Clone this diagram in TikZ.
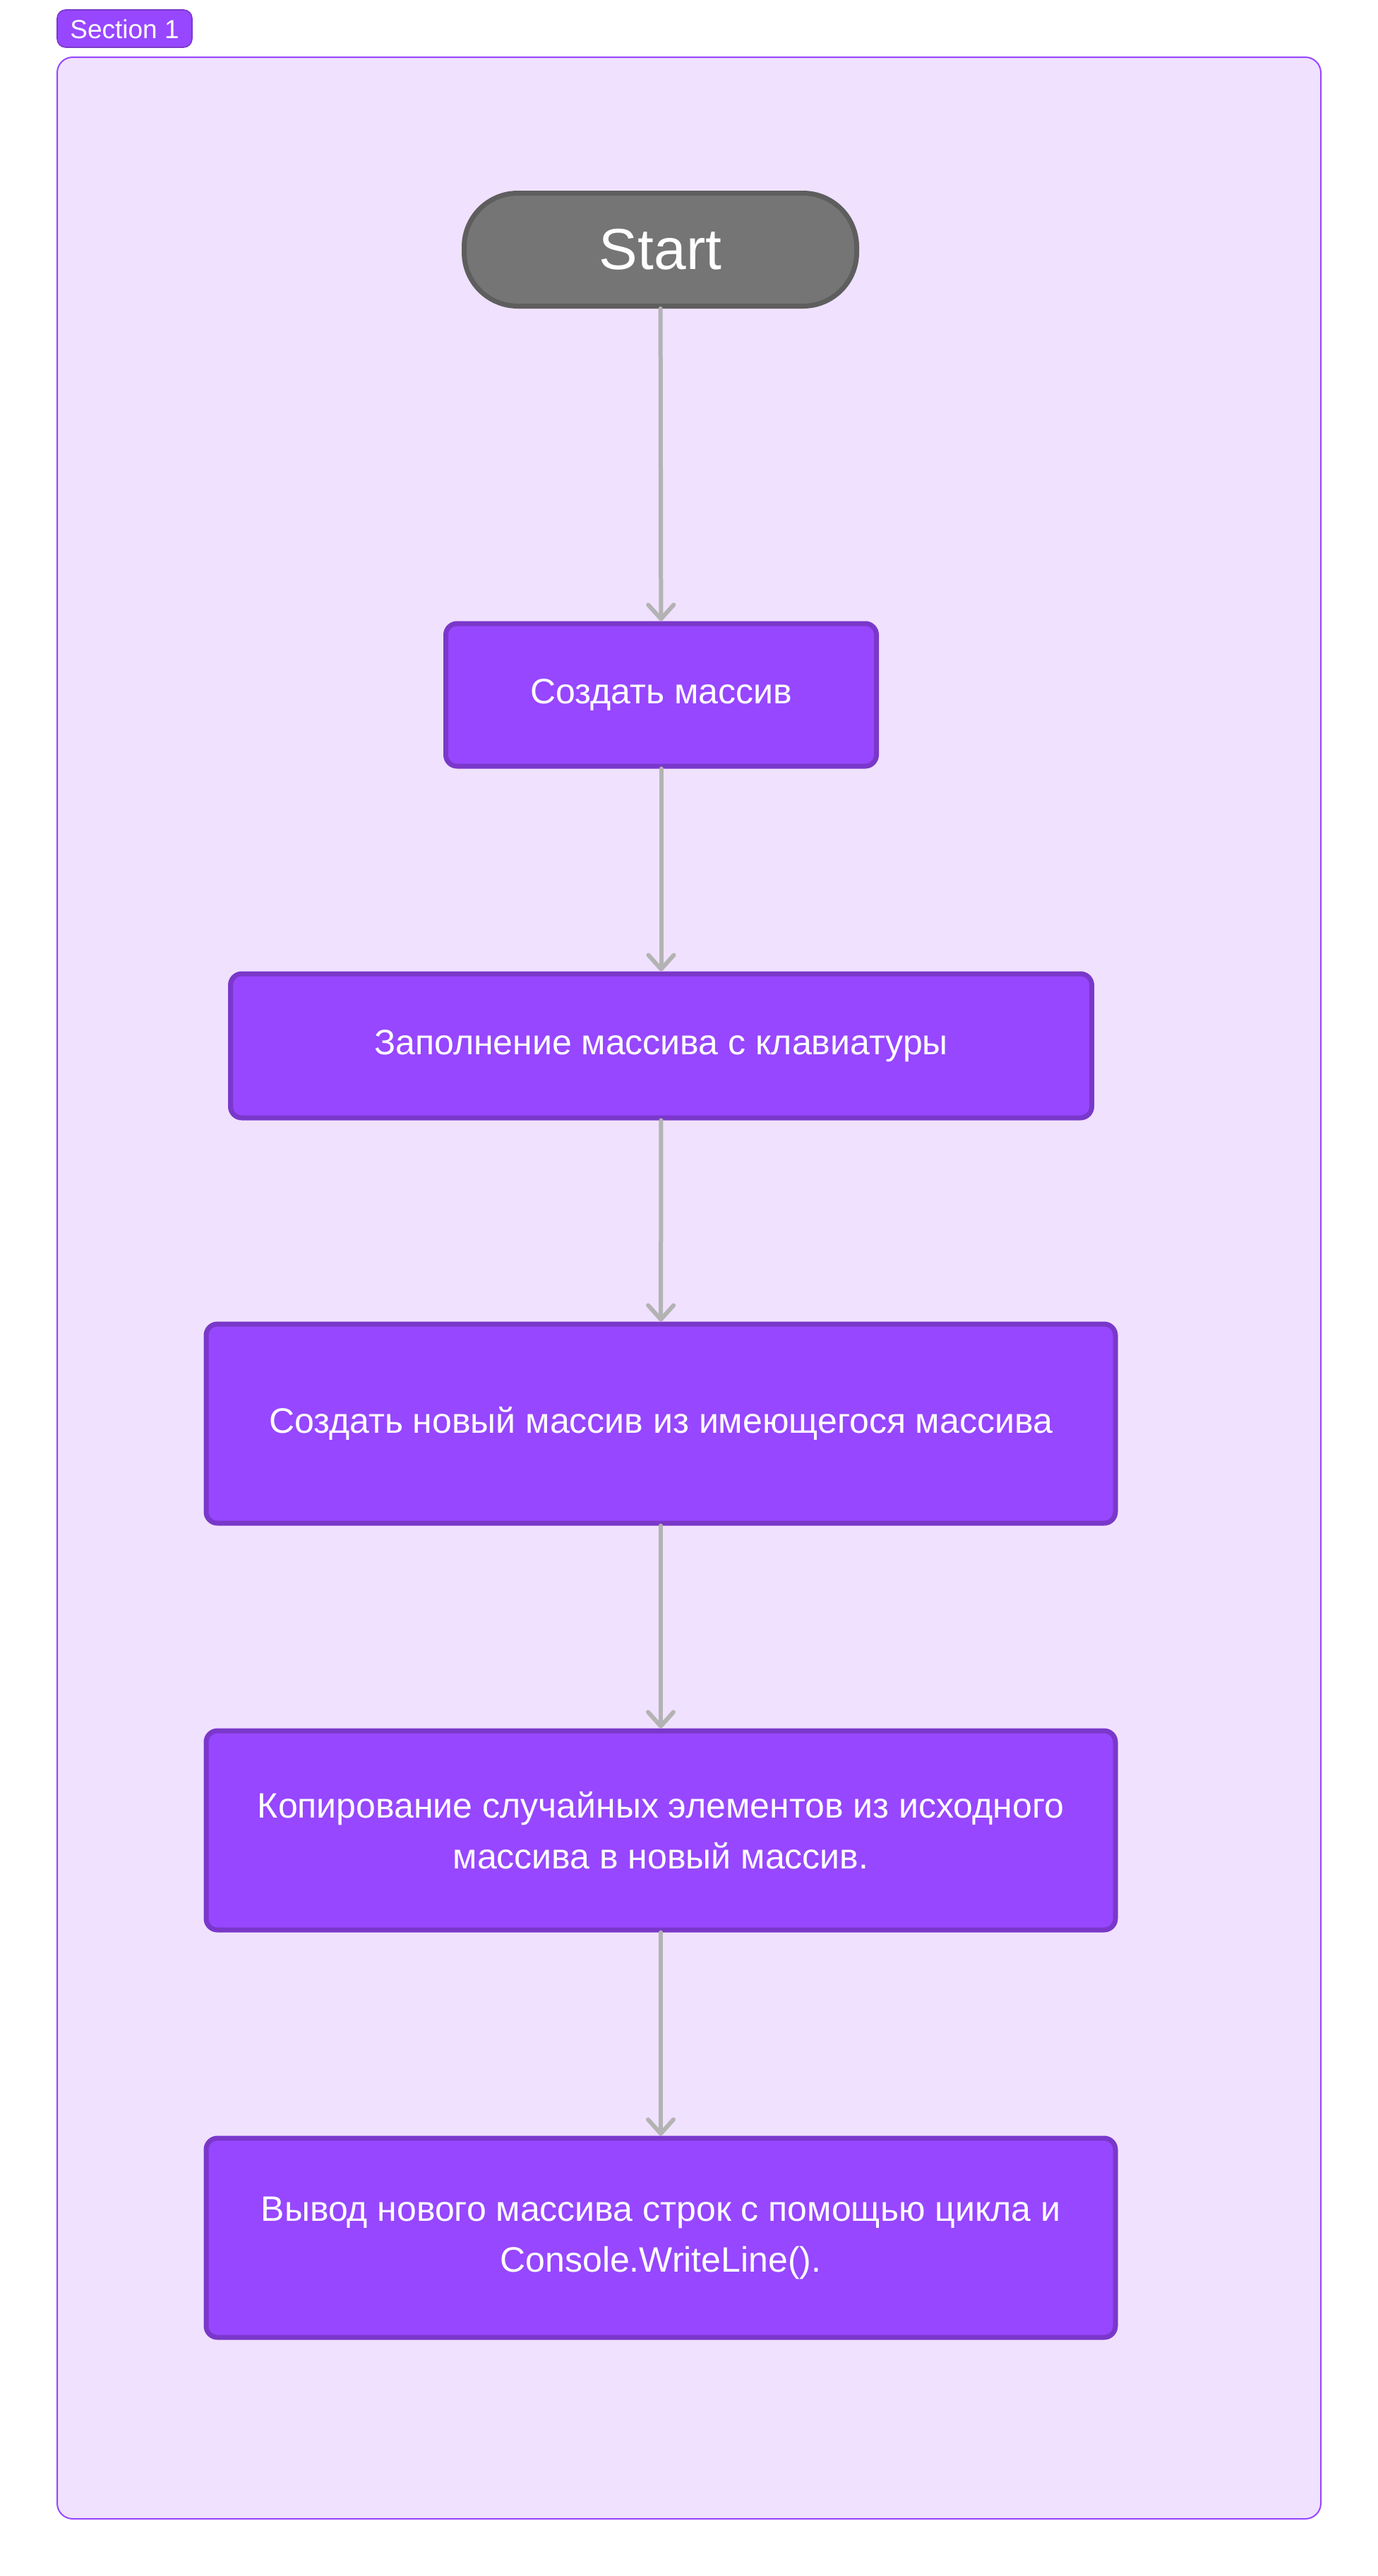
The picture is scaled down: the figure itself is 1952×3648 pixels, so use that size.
\documentclass[tikz,border=0pt]{standalone}
\usepackage{fontspec}
\setmainfont{Liberation Sans}
\usetikzlibrary{arrows.meta}
\definecolor{contfill}{HTML}{F0E1FF}
\definecolor{purp}{HTML}{9747FF}
\definecolor{purpdark}{HTML}{7A38CA}
\definecolor{startfill}{HTML}{757575}
\definecolor{startdraw}{HTML}{5E5E5E}
\definecolor{arrowgray}{HTML}{B3B3B3}
\tikzset{
  stepbox/.style={draw=purpdark, fill=purp, line width=3.5pt, rounded corners=8pt,
    text=white, align=center, font=\fontsize{25pt}{36pt}\selectfont, inner sep=0pt},
  startbox/.style={draw=startdraw, fill=startfill, line width=3.5pt, rounded corners=38pt,
    text=white, font=\fontsize{41pt}{48pt}\selectfont, inner sep=0pt,
    minimum width=278pt, minimum height=80pt},
  flow/.style={draw=arrowgray, line width=3pt, line cap=round,
    -{Straight Barb[length=10pt, width=18pt, line cap=round, line join=round]}}
}
\begin{document}
\begin{tikzpicture}[x=0.5pt,y=-0.5pt]
\useasboundingbox (0,0) rectangle (1952,3648);
\fill[white] (0,0) rectangle (1952,3648);
% container
\draw[draw=purp, fill=contfill, line width=1pt, rounded corners=11pt] (81,81) rectangle (1871,3567);
% section label
\draw[draw=purpdark, fill=purp, line width=0.8pt, rounded corners=6pt] (81,14) rectangle (272,67);
\node[text=white, font=\fontsize{18.5pt}{22pt}\selectfont, inner sep=0pt] (sec) at (176.5,41) {Section 1};
% nodes
\node[startbox] (start) at (935.5,353.5) {Start};
\node[stepbox, minimum width=305pt, minimum height=101pt] (b1) at (936.5,984) {Создать массив};
\node[stepbox, minimum width=610pt, minimum height=102pt] (b2) at (936.5,1481) {Заполнение массива с клавиатуры};
\node[stepbox, minimum width=644pt, minimum height=141pt] (b3) at (936,2016) {Создать новый массив из имеющегося массива};
\node[stepbox, minimum width=644pt, minimum height=141pt] (b4) at (936,2592) {Копирование случайных элементов из исходного\\массива в новый массив.};
\node[stepbox, minimum width=644pt, minimum height=141pt] (b5) at (936,3169) {Вывод нового массива строк с помощью цикла и\\Console.WriteLine().};
% connectors
\draw[flow] (start) -- (b1);
\draw[flow] (b1) -- (b2);
\draw[flow] (b2) -- (b3);
\draw[flow] (b3) -- (b4);
\draw[flow] (b4) -- (b5);
\end{tikzpicture}
\end{document}
